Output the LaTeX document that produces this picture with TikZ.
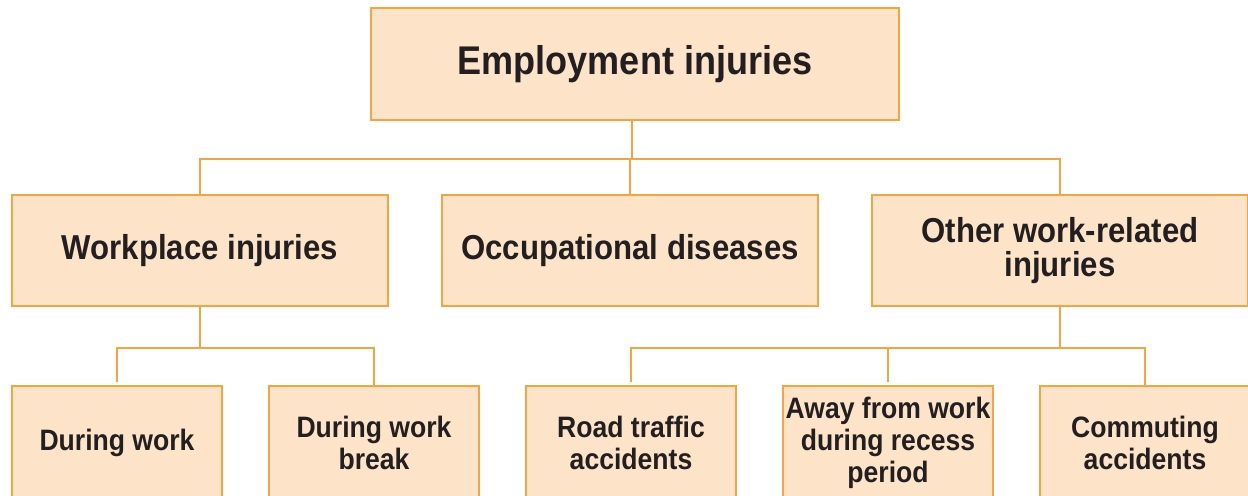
\documentclass[tikz,border=0pt]{standalone}
\usepackage{fontspec}
\newfontfamily\chartfont{Liberation Sans}[FakeStretch=0.9]
\definecolor{boxfill}{HTML}{FDE4C9}
\definecolor{boxline}{HTML}{F5A540}
\definecolor{ink}{HTML}{231F20}
\tikzset{
  box/.style={draw=boxline, fill=boxfill, line width=1.1pt, align=center, text=ink, font=\chartfont\bfseries, inner sep=0pt},
  link/.style={draw=boxline, line width=0.9pt}
}
\begin{document}
\begin{tikzpicture}[x=0.02cm,y=-0.02cm]
\useasboundingbox (0,0) rectangle (1248,495);
\node[box, minimum width=10.56cm, minimum height=2.24cm, font=\chartfont\bfseries\fontsize{22.8}{22}\selectfont] (top) at (635,64) {Employment injuries};

\node[box, minimum width=7.52cm, minimum height=2.22cm, font=\chartfont\bfseries\fontsize{19.7}{19}\selectfont] (work) at (200,250.5) {Workplace injuries};
\node[box, minimum width=7.52cm, minimum height=2.22cm, font=\chartfont\bfseries\fontsize{19.7}{19}\selectfont] (occup) at (630,250.5) {Occupational diseases};
\node[box, minimum width=7.52cm, minimum height=2.22cm, font=\chartfont\bfseries\fontsize{19.7}{19}\selectfont] (other) at (1060,250.5) {Other work-related\\injuries};

\node[box, minimum width=4.2cm, minimum height=2.28cm, font=\chartfont\bfseries\fontsize{16.8}{18.2}\selectfont] (during) at (117,443) {During work};
\node[box, minimum width=4.2cm, minimum height=2.28cm, font=\chartfont\bfseries\fontsize{16.8}{18.2}\selectfont] (break) at (374,443) {During work\\break};
\node[box, minimum width=4.2cm, minimum height=2.28cm, font=\chartfont\bfseries\fontsize{16.8}{18.2}\selectfont] (road) at (631,443) {Road traffic\\accidents};
\node[box, minimum width=4.2cm, minimum height=2.28cm, font=\chartfont\bfseries\fontsize{16.8}{18.2}\selectfont] (away) at (888,443) {Away from work\\during recess\\period};
\node[box, minimum width=4.2cm, minimum height=2.28cm, font=\chartfont\bfseries\fontsize{16.8}{18.2}\selectfont] (commute) at (1145,443) {Commuting\\accidents};

\coordinate (busA) at (632,159);
\coordinate (busB) at (200,348);
\coordinate (busC) at (1060,348);
\draw[link] (busA |- top.south) -- (busA);
\draw[link] (work.north) |- (busA) -| (other.north);
\draw[link] (occup.north) -- (occup.north |- busA);

\draw[link] (work.south) -- (busB);
\draw[link, shorten <=2pt] (during.north) |- (busB) -| (break.north);
\draw[link, shorten >=2pt] (busB -| break.north) -- (break.north);

\draw[link] (other.south) -- (busC);
\draw[link, shorten <=2pt] (road.north) |- (busC) -| (commute.north);
\draw[link, shorten >=2pt] (busC -| commute.north) -- (commute.north);
\draw[link, shorten >=2pt] (away.north |- busC) -- (away.north);
\end{tikzpicture}
\end{document}
